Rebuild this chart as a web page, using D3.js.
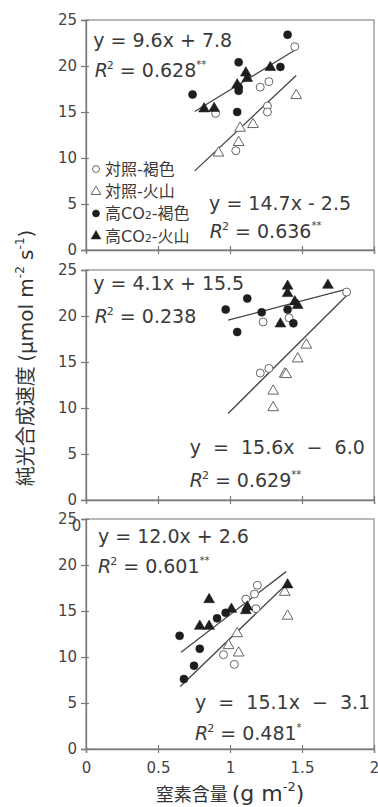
<!DOCTYPE html>
<html>
<head>
<meta charset="utf-8">
<script src="https://cdn.jsdelivr.net/npm/d3@7"></script>
<style>
body { margin: 0; background: #fff; }
text { font-family: "DejaVu Sans", "Noto Sans CJK JP", sans-serif; }
</style>
</head>
<body>
<div id="chart"></div>
<script>
// values: [nitrogen g m-2, net photosynthesis umol m-2 s-1]
const panelA_ctrlBrown = [[1.45,22.1],[1.27,18.3],[1.21,17.7],[1.26,15.65],[1.26,15.0],[0.90,14.85],[1.04,10.8]];
const panelA_ctrlVolc  = [[1.46,16.85],[1.16,13.7],[1.07,13.3],[1.06,11.75],[0.92,10.6]];
const panelA_highBrown = [[1.40,23.4],[0.74,16.9],[1.06,20.4],[1.06,17.7],[1.06,17.3],[1.05,15.0],[1.35,19.9]];
const panelA_highVolc  = [[0.82,15.4],[0.89,15.45],[1.11,19.3],[1.12,18.7],[1.05,18.0],[1.28,19.9]];

const panelB_ctrlBrown = [[1.81,22.6],[1.23,19.35],[1.41,19.8],[1.21,13.8],[1.27,14.3]];
const panelB_ctrlVolc  = [[1.53,16.9],[1.47,15.4],[1.38,13.75],[1.39,13.7],[1.30,11.9],[1.30,10.1]];
const panelB_highBrown = [[0.97,20.7],[1.05,18.26],[1.12,21.9],[1.22,20.4],[1.40,20.7],[1.44,19.2]];
const panelB_highVolc  = [[1.40,23.3],[1.40,22.5],[1.35,19.2],[1.45,21.6],[1.47,21.2],[1.68,23.4]];

const panelC_ctrlBrown = [[0.955,10.25],[1.03,9.2],[1.11,16.3],[1.17,16.85],[1.19,17.8],[1.18,15.25]];
const panelC_ctrlVolc  = [[0.99,11.3],[1.05,12.6],[1.06,10.5],[1.38,17.1],[1.40,14.5]];
const panelC_highBrown = [[0.65,12.3],[0.68,7.6],[0.75,9.05],[0.79,10.9],[0.91,14.2],[0.97,14.8]];
const panelC_highVolc  = [[0.855,16.3],[0.79,13.4],[0.855,13.4],[1.01,15.25],[1.11,15.1],[1.12,15.5],[1.40,17.9]];

// regression lines: [slope, intercept, x from, x to]
const fitsA = [[9.6, 7.8, 0.755, 1.46], [14.7, -2.5, 0.755, 1.46]];
const fitsB = [[4.1, 15.5, 0.987, 1.81], [15.6, -6.0, 0.987, 1.81]];
const fitsC = [[12.0, 2.6, 0.66, 1.39], [15.1, -3.1, 0.655, 1.39]];

// equation texts: [equation, r2, stars]
const eqsA = [["y = 9.6x + 7.8", "0.628", "**"], ["y = 14.7x - 2.5", "0.636", "**"]];
const eqsB = [["y = 4.1x + 15.5", "0.238", ""], ["y  =  15.6x  \u2212  6.0", "0.629", "**"]];
const eqsC = [["y = 12.0x + 2.6", "0.601", "**"], ["y  =  15.1x  \u2212  3.1", "0.481", "*"]];

const seriesNames = ["対照-褐色", "対照-火山", "高CO2-褐色", "高CO2-火山"];
const xTicks = [0, 0.5, 1, 1.5, 2];
const yTicks = [0, 5, 10, 15, 20, 25];

const W = 378, H = 807;
const svg = d3.select("#chart").append("svg")
    .attr("width", W).attr("height", H);

const margin = { left: 86, right: 4 };
const panels = [
    { top: 20,  series: [panelA_ctrlBrown, panelA_ctrlVolc, panelA_highBrown, panelA_highVolc], fits: fitsA, eqs: eqsA,
      eqPos: [[0.05, 22.1], [0.06, 18.8], [0.855, 4.35], [0.86, 1.3]] },
    { top: 270, series: [panelB_ctrlBrown, panelB_ctrlVolc, panelB_highBrown, panelB_highVolc], fits: fitsB, eqs: eqsB,
      eqPos: [[0.05, 22.85], [0.06, 19.25], [0.72, 5.0], [0.72, 1.4]] },
    { top: 519, series: [panelC_ctrlBrown, panelC_ctrlVolc, panelC_highBrown, panelC_highVolc], fits: fitsC, eqs: eqsC,
      eqPos: [[0.083, 22.4], [0.083, 19.1], [0.757, 4.35], [0.757, 0.98]] }
];
const plotH = 230;

const x = d3.scaleLinear().domain([0, 2]).range([margin.left, W - margin.right]);

const axisCol = "#7a7a7a", inkCol = "#3a3a3a";

function marker(g, kind, cx, cy, s) {
    // kind: 0 open circle, 1 open triangle, 2 filled circle, 3 filled triangle
    const open = kind < 2;
    let m;
    if (kind % 2 == 0) {
        m = g.append("circle").attr("cx", cx).attr("cy", cy).attr("r", s * 0.5);
    } else {
        const sym = d3.symbol().type(d3.symbolTriangle).size(s * s * 0.5);
        m = g.append("path").attr("d", sym()).attr("transform", "translate(" + cx + "," + (cy + 0.5) + ")");
    }
    m.attr("fill", open ? "#fff" : "#1e1e1e")
     .attr("stroke", open ? "#666" : "#1e1e1e")
     .attr("stroke-width", open ? 1 : 0.6);
}

panels.forEach(function(p, pi) {
    const y = d3.scaleLinear().domain([0, 25]).range([p.top + plotH, p.top]);
    const g = svg.append("g");

    // white plot background
    g.append("rect")
        .attr("x", x(0)).attr("y", y(25))
        .attr("width", x(2) - x(0)).attr("height", y(0) - y(25))
        .attr("fill", "#fff")
        .attr("stroke", "#8a8a8a").attr("stroke-width", 1.2);

    // y axis
    const ya = g.append("g")
        .attr("transform", "translate(" + x(0) + ",0)")
        .call(d3.axisLeft(y).tickValues(yTicks).tickSize(5).tickPadding(4));
    ya.select(".domain").attr("stroke", axisCol).attr("stroke-width", 1.3);
    ya.selectAll(".tick line").attr("x1", 3).attr("stroke", axisCol).attr("stroke-width", 1.2);
    ya.selectAll(".tick text").attr("fill", "#444").attr("font-size", 15)
        .attr("font-family", "DejaVu Sans");

    // x axis
    const xa = g.append("g")
        .attr("transform", "translate(0," + y(0) + ")")
        .call(d3.axisBottom(x).tickValues(xTicks).tickSize(4).tickPadding(pi == 1 ? 16 : 9)
            .tickFormat(d3.format("")));
    xa.select(".domain").attr("stroke", axisCol).attr("stroke-width", 1.3);
    xa.selectAll(".tick line").attr("y1", -4).attr("stroke", axisCol).attr("stroke-width", 1.2);
    xa.selectAll(".tick text").attr("fill", "#444").attr("font-size", 15)
        .attr("font-family", "DejaVu Sans");
    if (pi == 0) xa.selectAll(".tick text").remove();
    if (pi == 1) {
        // the other labels sit under the next panel, only the "0" peeks out
        xa.selectAll(".tick text").filter(d => d != 0).remove();
        xa.selectAll(".tick text").attr("dx", -10);
    }

    // regression lines
    p.fits.forEach(function(f) {
        g.append("line")
            .attr("x1", x(f[2])).attr("y1", y(f[0] * f[2] + f[1]))
            .attr("x2", x(f[3])).attr("y2", y(f[0] * f[3] + f[1]))
            .attr("stroke", "#444").attr("stroke-width", 1.3);
    });

    // points
    p.series.forEach(function(pts, si) {
        pts.forEach(function(d) {
            marker(g, si, x(d[0]), y(d[1]), si % 2 == 0 ? 8 : 10);
        });
    });

    // equations
    p.eqs.forEach(function(e, ei) {
        const pe = p.eqPos[ei * 2], pr = p.eqPos[ei * 2 + 1];
        g.append("text")
            .attr("x", x(pe[0])).attr("y", y(pe[1]))
            .attr("font-size", 19).attr("fill", inkCol)
            .style("white-space", "pre")
            .text(e[0]);
        const t = g.append("text")
            .attr("x", x(pr[0])).attr("y", y(pr[1]))
            .attr("font-size", 19).attr("fill", inkCol)
            .style("white-space", "pre");
        t.append("tspan").attr("font-style", "italic").text("R");
        t.append("tspan").attr("font-size", 11).attr("dx", -1).attr("dy", -8).text("2");
        t.append("tspan").attr("dy", 8).text(" = " + e[1]);
        if (e[2]) t.append("tspan").attr("font-size", 10).attr("dy", -9).text(e[2]);
    });

    // legend in the first panel
    if (pi == 0) {
        seriesNames.forEach(function(name, si) {
            const ly = 169 + si * 22.2;
            marker(g, si, 96, ly, si % 2 == 0 ? 7 : 9);
            const t = g.append("text")
                .attr("x", 105).attr("y", ly + 6)
                .attr("font-size", 16).attr("fill", inkCol)
                .attr("font-family", "Noto Sans CJK JP");
            const m = name.match(/^(.*CO)2(.*)$/);
            if (m) {
                t.append("tspan").text(m[1]);
                t.append("tspan").attr("font-size", 11).text("2");
                t.append("tspan").text(m[2]);
            } else {
                t.text(name);
            }
        });
    }
});

// axis titles
const yt = svg.append("text")
    .attr("transform", "translate(33,358) rotate(-90)")
    .attr("text-anchor", "middle")
    .attr("font-size", 20).attr("fill", "#333");
yt.append("tspan").attr("font-family", "Noto Sans CJK JP").text("純光合成速度 ");
yt.append("tspan").text("(μmol m");
yt.append("tspan").attr("font-size", 12).attr("dy", -9).text("-2");
yt.append("tspan").attr("dy", 9).text(" s");
yt.append("tspan").attr("font-size", 12).attr("dy", -9).text("-1");
yt.append("tspan").attr("dy", 9).text(")");

const xt = svg.append("text")
    .attr("x", 230).attr("y", 801)
    .attr("text-anchor", "middle")
    .attr("font-size", 22).attr("fill", "#333");
xt.append("tspan").attr("font-family", "Noto Sans CJK JP").attr("font-size", 18).text("窒素含量 ");
xt.append("tspan").text("(g m");
xt.append("tspan").attr("font-size", 13).attr("dy", -10).text("-2");
xt.append("tspan").attr("dy", 10).text(")");
</script>
</body>
</html>
